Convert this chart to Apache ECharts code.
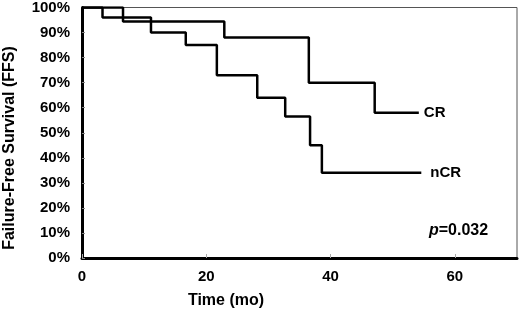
<!DOCTYPE html>
<html>
<head>
<meta charset="utf-8">
<script src="https://cdn.jsdelivr.net/npm/echarts@6/dist/echarts.min.js"></script>
<style>
html,body{margin:0;padding:0;background:#fff;}
#container{width:520px;height:311px;}
</style>
</head>
<body>
<div id="container"></div>
<script>
// Kaplan-Meier steps (months, % FFS)
var crTimes = [0, 6.6, 22.9, 36.5, 47.1, 54.2];
var crValues = [100, 94.4, 88, 70, 58, 58];
var ncrTimes = [0, 3.3, 11.1, 16.7, 21.7, 28.2, 32.7, 36.7, 38.6, 54.6];
var ncrValues = [100, 96, 90, 85, 73, 64, 56.5, 45, 34, 34];
var xTicks = [0, 20, 40, 60];
var seriesNames = ['CR', 'nCR'];

var font = 'Liberation Sans, Arial, sans-serif';

function pairs(xs, ys) {
    var out = [];
    for (var i = 0; i < xs.length; i++) out.push([xs[i], ys[i]]);
    return out;
}

var chart = echarts.init(document.getElementById('container'));

function makeSeries(name, xs, ys, gap) {
    return {
        name: name,
        type: 'line',
        step: 'end',
        symbol: 'none',
        data: pairs(xs, ys),
        lineStyle: {color: '#000', width: 2.5},
        endLabel: {
            show: true,
            formatter: name,
            distance: gap,
            color: '#000',
            fontFamily: font,
            fontWeight: 'bold',
            fontSize: 15
        },
        animation: false
    };
}

var option = {
    animation: false,
    grid: {
        left: 82, right: 3, top: 6, bottom: 53,
        show: true,
        borderColor: '#555',
        borderWidth: 1
    },
    xAxis: {
        type: 'value',
        min: 0,
        max: 70,
        interval: 20,
        axisLine: {show: true, onZero: false, lineStyle: {color: '#000', width: 3}},
        axisTick: {show: true, inside: true, length: 4, lineStyle: {color: '#aaa'}},
        splitLine: {show: false},
        axisLabel: {
            color: '#000', fontFamily: font, fontWeight: 'bold', fontSize: 15,
            margin: 11, showMaxLabel: false,
            formatter: function (v) { return xTicks.indexOf(v) >= 0 ? String(v) : ''; }
        }
    },
    yAxis: {
        type: 'value',
        min: 0,
        max: 100,
        interval: 10,
        axisLine: {show: true, lineStyle: {color: '#000', width: 3}},
        axisTick: {show: true, inside: true, length: 3, lineStyle: {color: '#888'}},
        splitLine: {show: false},
        axisLabel: {
            color: '#000', fontFamily: font, fontWeight: 'bold', fontSize: 15,
            margin: 12, formatter: '{value}%', padding: [6, 0, 0, 0]
        }
    },
    graphic: [
        {
            type: 'text',
            x: 10, y: 148,
            rotation: Math.PI / 2,
            style: {
                text: 'Failure-Free Survival (FFS)',
                fill: '#000',
                font: 'bold 16px ' + font,
                align: 'center',
                verticalAlign: 'middle'
            }
        },
        {
            type: 'text',
            x: 226, y: 301,
            style: {
                text: 'Time (mo)',
                fill: '#000',
                font: 'bold 16px ' + font,
                align: 'center',
                verticalAlign: 'middle'
            }
        },
        {
            type: 'text',
            x: 429, y: 231,
            style: {
                text: '{i|p}{b|=0.032}',
                verticalAlign: 'middle',
                rich: {
                    i: {fontFamily: font, fontStyle: 'italic', fontWeight: 'bold', fontSize: 16, fill: '#000'},
                    b: {fontFamily: font, fontWeight: 'bold', fontSize: 16, fill: '#000'}
                }
            }
        }
    ],
    series: [
        makeSeries(seriesNames[0], crTimes, crValues, 5),
        makeSeries(seriesNames[1], ncrTimes, ncrValues, 9)
    ]
};

chart.setOption(option);
</script>
</body>
</html>
